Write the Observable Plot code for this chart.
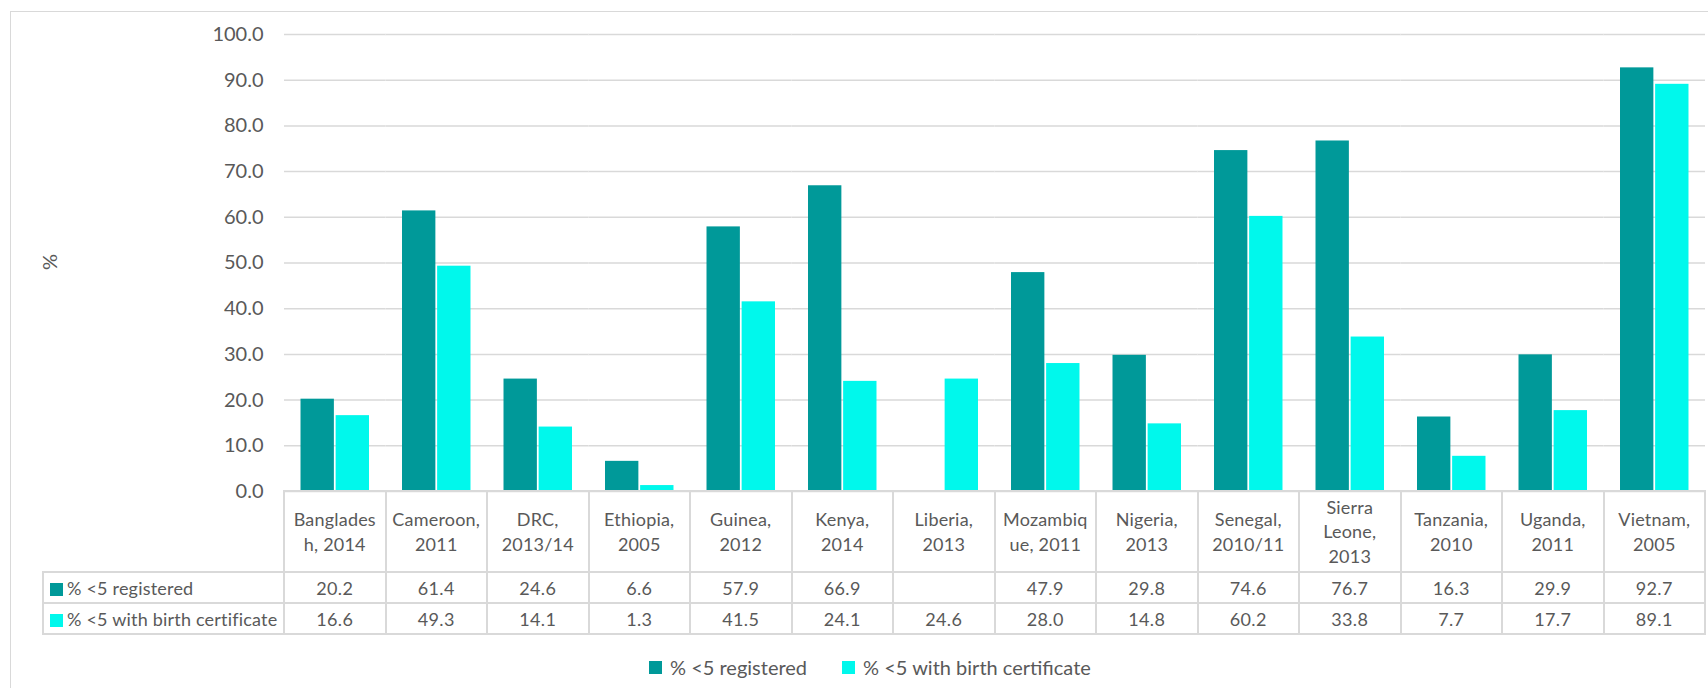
<!DOCTYPE html>
<html>
<head>
<meta charset="utf-8">
<script src="https://cdn.jsdelivr.net/npm/d3@7"></script>
<script src="https://cdn.jsdelivr.net/npm/@observablehq/plot@0.6"></script>
<style>
  html, body { margin: 0; padding: 0; background: #fff; }
  body { width: 1708px; height: 688px; overflow: hidden; position: relative;
         font-family: Lato, "Open Sans", sans-serif; color: #595959; }
  #frame { position: absolute; left: 10px; top: 11px; width: 1760px; height: 760px;
           border: 1.5px solid #d9d9d9; box-sizing: border-box; }
  #chart { position: absolute; left: 0; top: 0; }
  #ylabel { position: absolute; left: 49px; top: 262px; font-size: 20px;
            transform: translate(-50%, -50%) rotate(-90deg); }
  #datatable { position: absolute; border-collapse: collapse; table-layout: fixed;
               font-size: 18px; color: #595959; letter-spacing: 0.3px; }
  #datatable td { border: 2px solid #d9d9d9; text-align: center; vertical-align: middle;
                  padding: 0; white-space: nowrap; overflow: visible; }
  #datatable td.corner { border-top: none; border-left: none; }
  #datatable td.head { line-height: 24.5px; letter-spacing: 0.2px; }
  #datatable td.name { text-align: left; padding-left: 6px; letter-spacing: 0.2px; }
  .sw { display: inline-block; width: 13px; height: 13px; vertical-align: -1px; margin-right: 4px; }
  #legend { position: absolute; left: 649px; top: 655px; font-size: 20px; display: flex;
            align-items: center; white-space: nowrap; }
  #legend .item { display: flex; align-items: center; margin-right: 35px; }
  #legend .lsw { width: 13px; height: 13px; margin-right: 8px; }
</style>
</head>
<body>
<div id="frame"></div>
<div id="chart"></div>
<div id="ylabel">%</div>
<table id="datatable"></table>
<div id="legend"></div>
<script>
// ---------- data ----------
const categories = ["Bangladesh, 2014", "Cameroon, 2011", "DRC, 2013/14", "Ethiopia, 2005",
  "Guinea, 2012", "Kenya, 2014", "Liberia, 2013", "Mozambique, 2011", "Nigeria, 2013",
  "Senegal, 2010/11", "Sierra Leone, 2013", "Tanzania, 2010", "Uganda, 2011", "Vietnam, 2005"];
const categoryLabelLines = [["Banglades", "h, 2014"], ["Cameroon,", "2011"], ["DRC,", "2013/14"],
  ["Ethiopia,", "2005"], ["Guinea,", "2012"], ["Kenya,", "2014"], ["Liberia,", "2013"],
  ["Mozambiq", "ue, 2011"], ["Nigeria,", "2013"], ["Senegal,", "2010/11"], ["Sierra", "Leone,", "2013"],
  ["Tanzania,", "2010"], ["Uganda,", "2011"], ["Vietnam,", "2005"]];
const seriesNames = ["% <5 registered", "% <5 with birth certificate"];
const registered = [20.2, 61.4, 24.6, 6.6, 57.9, 66.9, null, 47.9, 29.8, 74.6, 76.7, 16.3, 29.9, 92.7];
const withCertificate = [16.6, 49.3, 14.1, 1.3, 41.5, 24.1, 24.6, 28.0, 14.8, 60.2, 33.8, 7.7, 17.7, 89.1];
const yTicks = [0, 10, 20, 30, 40, 50, 60, 70, 80, 90, 100];
const seriesColors = ["#009999", "#00F8EC"];

// ---------- table for Plot ----------
const seriesValues = [registered, withCertificate];
const rows = [];
categories.forEach((c, i) => {
  seriesNames.forEach((s, j) => {
    const v = seriesValues[j][i];
    if (v != null) rows.push({category: c, series: s, value: v});
  });
});

const chart = Plot.plot({
  width: 1708,
  height: 491,
  marginTop: 34,
  marginBottom: 0,
  marginLeft: 284,
  marginRight: 3,
  style: {background: "transparent", fontFamily: "Lato, 'Open Sans', sans-serif", fontSize: "20px", color: "#595959", overflow: "visible"},
  facet: {data: rows, x: "category"},
  fx: {domain: categories, padding: 0, round: false, axis: null, label: null},
  x: {domain: seriesNames, paddingInner: 0.05, paddingOuter: 0.47, round: false, axis: null},
  y: {domain: [0, 100], ticks: yTicks, tickFormat: d => d.toFixed(1), tickSize: 0, tickPadding: 21, label: null},
  color: {domain: seriesNames, range: seriesColors},
  marks: [
    Plot.ruleY(yTicks, {stroke: "#d9d9d9", strokeWidth: 1.5}),
    Plot.barY(rows, {x: "series", y: "value", fill: "series"})
  ]
});
document.getElementById("chart").appendChild(chart);

// ---------- data table aligned to the fx scale ----------
let colLeft, colWidth;
try {
  const fxs = chart.scale("fx");
  colWidth = fxs.bandwidth;
  colLeft = fxs.apply ? fxs.apply(categories[0]) : fxs.range[0];
  if (!(colWidth > 0) || !isFinite(colLeft)) throw 0;
} catch (e) {
  const b = d3.scaleBand(categories, [284, 1705]).padding(0);
  colWidth = b.bandwidth(); colLeft = b(categories[0]);
}
const tableLeft = 43;
const table = d3.select("#datatable")
  .style("left", (tableLeft - 1) + "px")
  .style("top", "490px")
  .style("width", (colLeft - tableLeft + colWidth * categories.length + 2) + "px");
const colgroup = table.append("colgroup");
colgroup.append("col").style("width", (colLeft - tableLeft) + "px");
categories.forEach(() => colgroup.append("col").style("width", colWidth + "px"));

const headRow = table.append("tr").style("height", "81px");
headRow.append("td").attr("class", "corner");
categoryLabelLines.forEach(lines => {
  headRow.append("td").attr("class", "head").html(lines.join("<br>"));
});
seriesNames.forEach((s, j) => {
  const tr = table.append("tr").style("height", "31px");
  const nameCell = tr.append("td").attr("class", "name");
  nameCell.append("span").attr("class", "sw").style("background", seriesColors[j]);
  nameCell.append("span").text(s);
  seriesValues[j].forEach(v => tr.append("td").text(v == null ? "" : v.toFixed(1)));
});

// ---------- legend ----------
const legend = d3.select("#legend");
seriesNames.forEach((s, j) => {
  const item = legend.append("div").attr("class", "item");
  item.append("div").attr("class", "lsw").style("background", seriesColors[j]);
  item.append("span").text(s);
});
</script>
</body>
</html>
